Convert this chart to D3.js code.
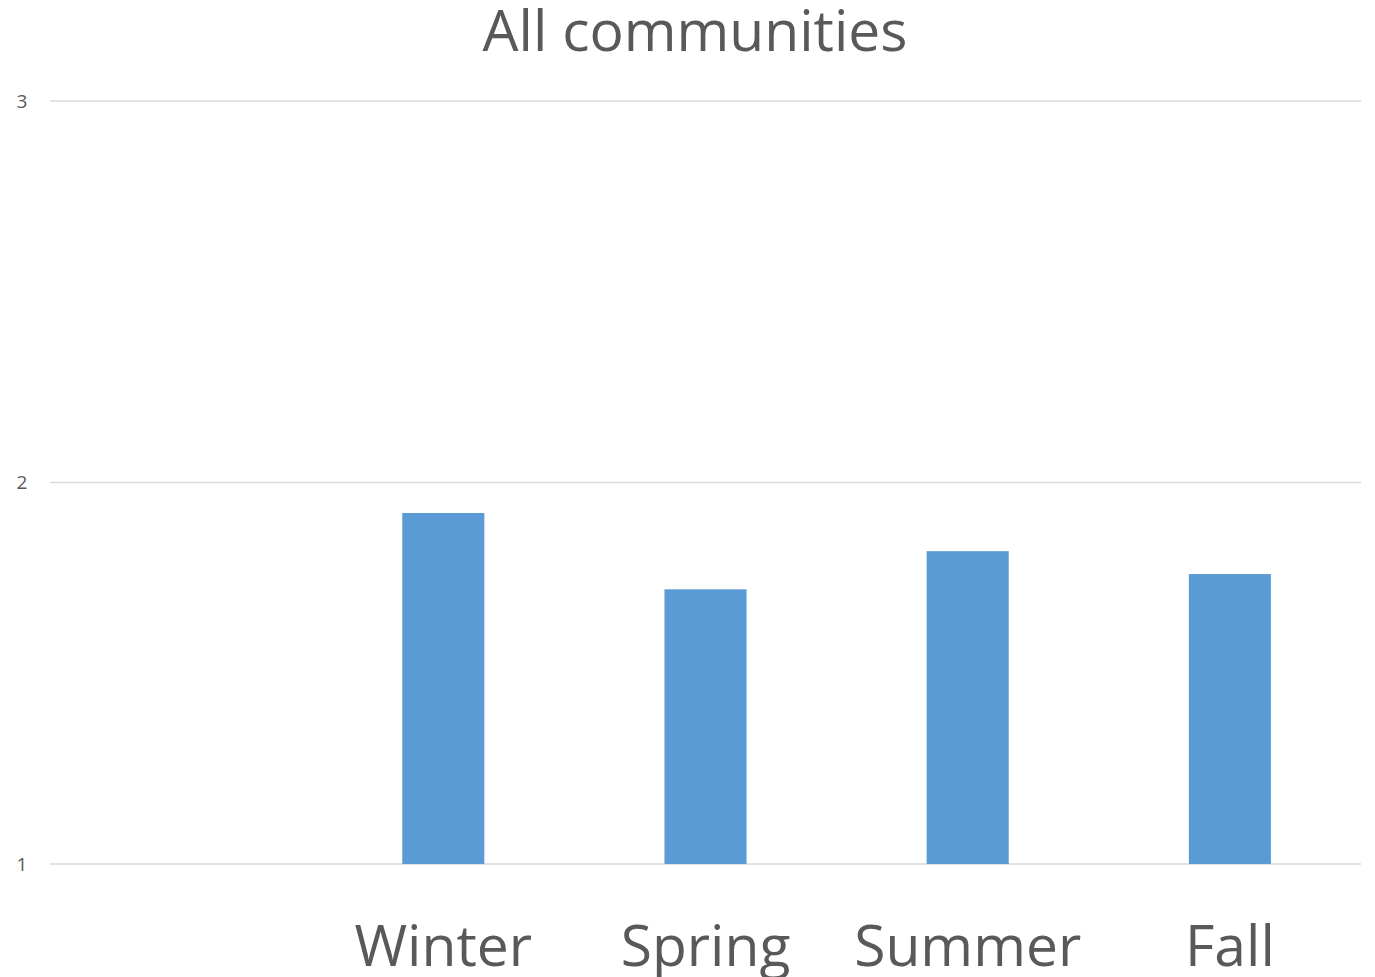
<!DOCTYPE html>
<html>
<head>
<meta charset="utf-8">
<script src="https://cdn.jsdelivr.net/npm/d3@7"></script>
<style>
  body { margin: 0; background: #fff; }
  text { font-family: "Open Sans", sans-serif; fill: #595959; }
</style>
</head>
<body>
<div id="chart1"></div>
<script>
// first category has no label and no value
var seasons = ["", "Winter", "Spring", "Summer", "Fall"];
var values = [null, 1.92, 1.72, 1.82, 1.76];
var yTicks = [1, 2, 3];
var title = "All communities";

var W = 1375, H = 977;
var margin = { top: 101, right: 14, bottom: 113, left: 50 },
    width = W - margin.left - margin.right,
    height = H - margin.top - margin.bottom;

var svg = d3.select("#chart1").append("svg")
    .attr("width", W)
    .attr("height", H);

var chart = svg.append("g")
    .attr("transform", "translate(" + margin.left + "," + margin.top + ")");

var x = d3.scaleBand()
    .domain(seasons.map(function (d, i) { return i; }))
    .range([0, width])
    .paddingInner(0.687)
    .paddingOuter(0.3435);

var y = d3.scaleLinear()
    .domain([1, 3])
    .range([height, 0]);

// gridlines
chart.selectAll(".grid")
    .data(yTicks)
    .enter().append("line")
    .attr("class", "grid")
    .attr("x1", 0)
    .attr("x2", width)
    .attr("y1", function (d) { return y(d); })
    .attr("y2", function (d) { return y(d); })
    .attr("stroke", "#d9d9d9")
    .attr("stroke-width", 1.3);

// y tick labels
chart.selectAll(".ylabel")
    .data(yTicks)
    .enter().append("text")
    .attr("class", "ylabel")
    .attr("x", -28)
    .attr("y", function (d) { return y(d); })
    .attr("dy", "0.36em")
    .attr("text-anchor", "middle")
    .style("font-size", "19px")
    .text(function (d) { return d; });

var rows = seasons.map(function (s, i) { return { i: i, name: s, v: values[i] }; });

chart.selectAll(".bar")
    .data(rows.filter(function (d) { return d.v != null; }))
    .enter().append("rect")
    .attr("class", "bar")
    .attr("fill", "#5b9bd5")
    .attr("x", function (d) { return x(d.i); })
    .attr("width", x.bandwidth())
    .attr("y", function (d) { return y(d.v); })
    .attr("height", function (d) { return height - y(d.v); });

// category labels (descenders run off the bottom, as in the original)
chart.selectAll(".xlabel")
    .data(rows)
    .enter().append("text")
    .attr("class", "xlabel")
    .attr("x", function (d) { return x(d.i) + x.bandwidth() / 2; })
    .attr("y", height + 102)
    .attr("text-anchor", "middle")
    .style("font-size", "57px")
    .text(function (d) { return d.name; });

svg.append("text")
    .attr("x", 695)
    .attr("y", 51)
    .attr("text-anchor", "middle")
    .style("font-size", "57px")
    .text(title);
</script>
</body>
</html>
